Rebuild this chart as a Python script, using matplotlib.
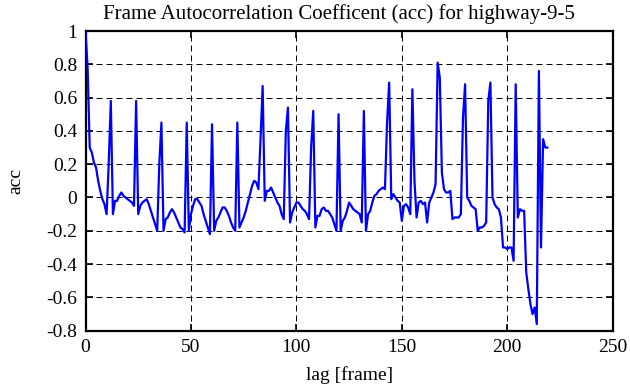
import matplotlib
matplotlib.use("Agg")
import matplotlib.pyplot as plt
import numpy as np

title = "Frame Autocorrelation Coefficent (acc) for highway-9-5"
xlabel = "lag [frame]"
ylabel = "acc"

acc = [
    1.0, 0.78, 0.3, 0.27, 0.21, 0.18, 0.1, 0.04, -0.01, -0.04,    # 0-9
    -0.1, 0.2, 0.58, -0.1, -0.02, -0.02, 0.01, 0.03, 0.01, 0.0,   # 10-19
    -0.01, -0.02, -0.03, -0.05, 0.58, -0.1, -0.05, -0.03, -0.02, -0.01,  # 20-29
    -0.04, -0.08, -0.12, -0.16, -0.2, 0.2, 0.45, -0.2, -0.13, -0.12,    # 30-39
    -0.09, -0.07, -0.09, -0.12, -0.15, -0.18, -0.19, -0.21, 0.45, -0.2,  # 40-49
    -0.1, -0.05, -0.01, -0.01, -0.03, -0.05, -0.1, -0.14, -0.18, -0.22,  # 50-59
    0.44, -0.2, -0.14, -0.12, -0.09, -0.06, -0.06, -0.08, -0.11, -0.15,  # 60-69
    -0.18, -0.2, 0.45, -0.18, -0.15, -0.12, -0.08, -0.03, 0.02, 0.07,    # 70-79
    0.1, 0.09, 0.05, 0.35, 0.67, -0.02, 0.04, 0.04, 0.06, 0.03,          # 80-89
    0.0, -0.03, -0.05, -0.1, -0.13, 0.4, 0.54, -0.15, -0.09, -0.06,      # 90-99
    -0.03, -0.03, -0.05, -0.07, -0.08, -0.1, -0.13, 0.3, 0.52, -0.18,    # 100-109
    -0.11, -0.11, -0.07, -0.06, -0.08, -0.08, -0.1, -0.12, -0.16, -0.2,  # 110-119
    0.5, -0.2, -0.14, -0.12, -0.08, -0.03, -0.05, -0.07, -0.08, -0.09,   # 120-129
    -0.1, -0.15, 0.52, -0.2, -0.1, -0.08, -0.03, 0.01, 0.02, 0.04,       # 130-139
    0.05, 0.06, 0.05, 0.45, 0.69, -0.01, 0.02, 0.0, -0.02, -0.03,        # 140-149
    -0.14, -0.05, -0.04, -0.06, -0.1, 0.65, 0.1, -0.12, -0.03, -0.02,    # 150-159
    -0.04, -0.03, -0.15, -0.03, 0.0, 0.03, 0.08, 0.81, 0.72, 0.15,       # 160-169
    0.05, 0.03, 0.03, 0.04, -0.13, -0.12, -0.12, -0.12, -0.1, 0.48,      # 170-179
    0.68, 0.0, -0.02, -0.05, -0.06, -0.07, -0.2, -0.18, -0.18, -0.17,    # 180-189
    -0.15, 0.58, 0.69, 0.0, -0.04, -0.06, -0.07, -0.12, -0.3, -0.3,      # 190-199
    -0.31, -0.3, -0.3, -0.38, 0.68, -0.12, -0.07, -0.08, -0.08, -0.45,   # 200-209
    -0.55, -0.64, -0.7, -0.66, -0.76, 0.76, -0.3, 0.35, 0.3, 0.3,        # 210-219
]
lags = list(range(len(acc)))

xticks = [0, 50, 100, 150, 200, 250]
yticks = [-0.8, -0.6, -0.4, -0.2, 0, 0.2, 0.4, 0.6, 0.8, 1]
yticklabels = ["-0.8", "-0.6", "-0.4", "-0.2", "0", "0.2", "0.4", "0.6", "0.8", "1"]

plt.rcParams['font.family'] = ['Liberation Serif', 'DejaVu Serif']
plt.rcParams['font.size'] = 14

fig = plt.figure(figsize=(6.3, 3.87), dpi=100)
ax = fig.add_axes([85.5/630, 1 - 330.7/387, (612.7-85.5)/630, (330.7-31)/387])

ax.plot(lags, acc, color=(0, 0, 1), lw=1.6, zorder=3)

ax.set_xlim(0, 250)
ax.set_ylim(-0.8, 1)
ax.set_xticks(xticks)
ax.set_yticks(yticks)
ax.set_yticklabels(yticklabels)
ax.grid(True, color='black', linestyle=(0, (6, 4)), linewidth=0.72)
ax.tick_params(direction='in', length=5, width=1.2, top=True, right=True,
               labelsize=14, pad=6, colors='black')
for s in ax.spines.values():
    s.set_linewidth(1.6)
ax.set_title(title, fontsize=15, pad=9, x=0.48)
ax.set_xlabel(xlabel, fontsize=14, labelpad=7)
ax.set_ylabel(ylabel, fontsize=14, labelpad=16)

fig.savefig("out.png", dpi=100)
